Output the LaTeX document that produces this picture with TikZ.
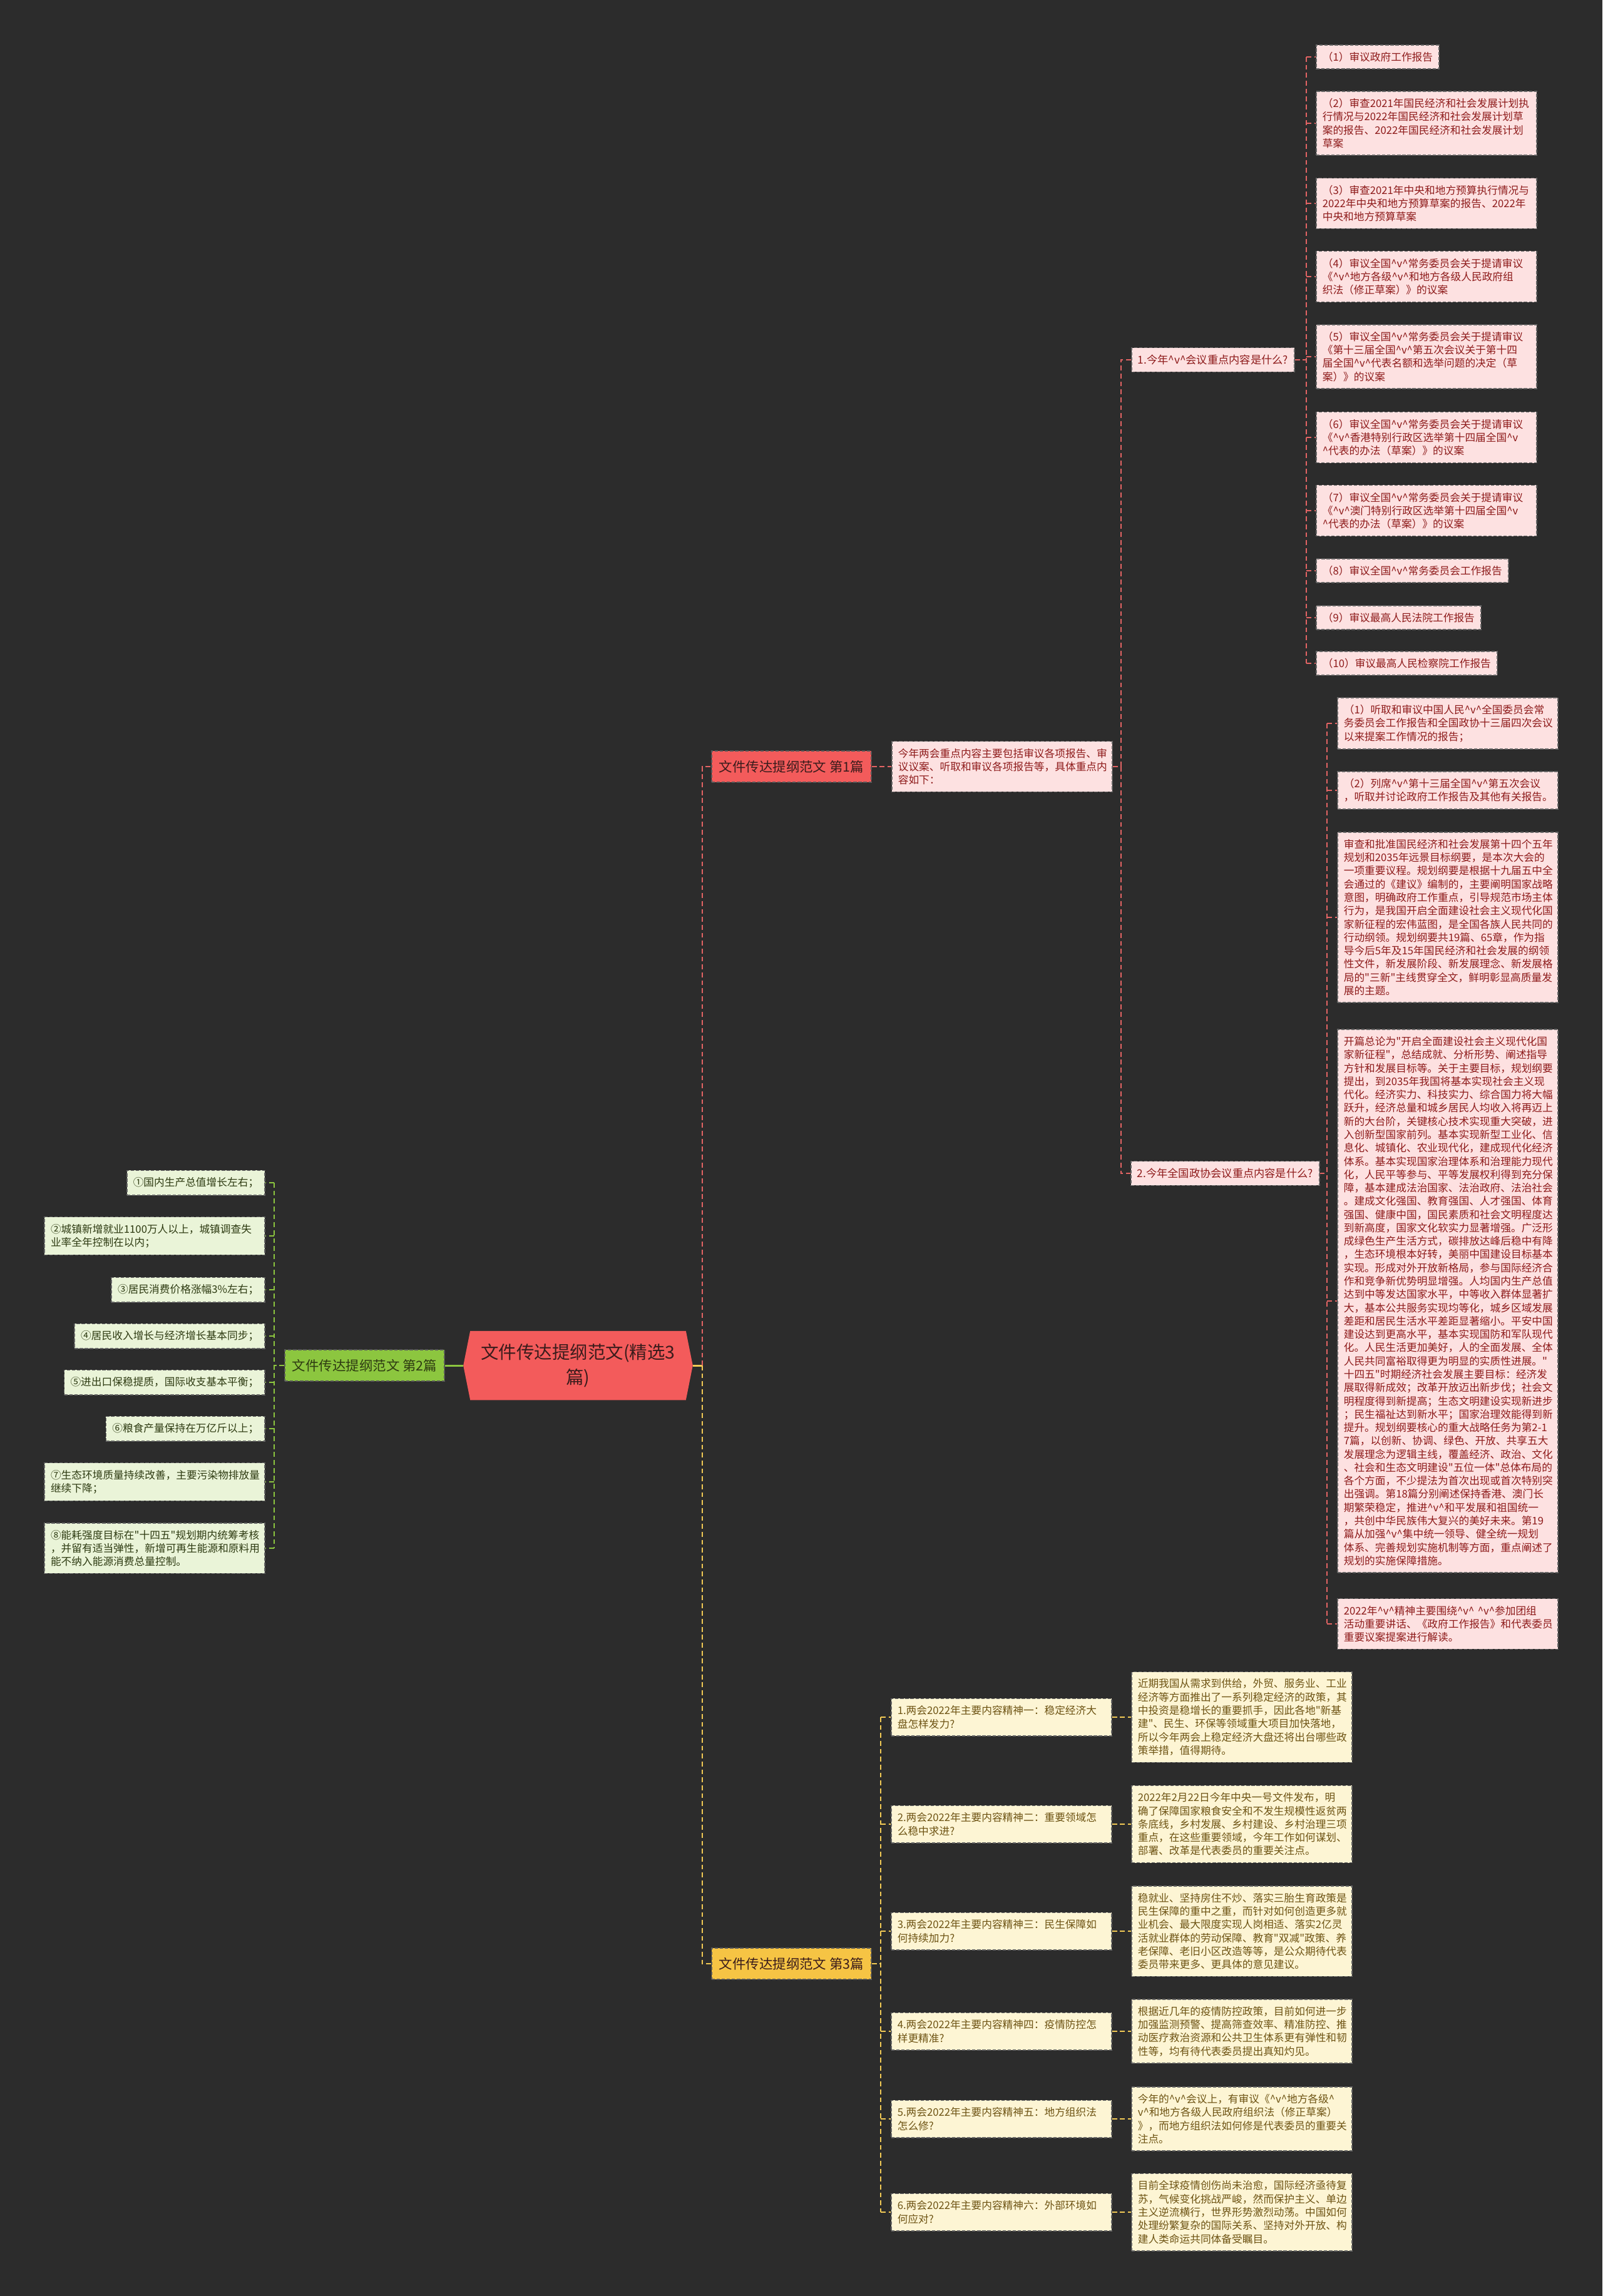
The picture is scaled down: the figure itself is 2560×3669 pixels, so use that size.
\documentclass[tikz,border=0pt]{standalone}
\usepackage{fontspec}
\setmainfont{Noto Sans CJK SC}
\usetikzlibrary{backgrounds}
\definecolor{bgdark}{HTML}{2C2C2C}
\definecolor{cRed}{HTML}{F35B5B}
\definecolor{cPinkFill}{HTML}{FDE1E1}
\definecolor{cPinkText}{HTML}{8E1B1B}
\definecolor{cPinkLine}{HTML}{E36464}
\definecolor{cGreen}{HTML}{8CC63F}
\definecolor{cGreenFill}{HTML}{EAF4D8}
\definecolor{cGreenText}{HTML}{2E3B12}
\definecolor{cYellow}{HTML}{F6C444}
\definecolor{cYellowFill}{HTML}{FDF5D4}
\definecolor{cYellowText}{HTML}{6E5414}
\definecolor{cYellowLine}{HTML}{F2CA55}
\definecolor{cDarkText}{HTML}{3A1C1C}
\newcommand{\vmark}{\textasciicircum{}v\textasciicircum{}}
\newcommand{\qt}{\textquotedbl{}}

\begin{document}
\begin{tikzpicture}[x=0.01cm,y=-0.01cm,line cap=butt,
  item/.style={font=\fontsize{4.75}{6.05}\selectfont,inner xsep=0.1cm,inner ysep=0.113cm,draw=black!60,line width=0.45pt,dash pattern=on 1.5pt off 0.8pt},
  wrapbox/.style={text width=3.32cm,align=left},
  pinkitem/.style={item,fill=cPinkFill,text=cPinkText},
  greenitem/.style={item,fill=cGreenFill,text=cGreenText},
  yellowitem/.style={item,fill=cYellowFill,text=cYellowText},
  branch/.style={font=\fontsize{6.1}{7.5}\selectfont,minimum height=0.5cm,inner xsep=0.12cm,draw=black!65,line width=0.45pt,dash pattern=on 1.5pt off 0.8pt},
  rootbox/.style={font=\fontsize{8.1}{11.4}\selectfont,text=cDarkText,minimum width=3.65cm,minimum height=1.09cm,text width=3.3cm,align=center,inner sep=0pt},
  pinkline/.style={draw=cPinkLine,line width=0.55pt,dash pattern=on 2.2pt off 1.4pt},
  greenline/.style={draw=cGreen,line width=0.55pt,dash pattern=on 2.2pt off 1.4pt},
  yellowline/.style={draw=cYellowLine,line width=0.55pt,dash pattern=on 2.2pt off 1.4pt}]
\useasboundingbox (0,0) rectangle (2560,3669);

% root
\node[rootbox] (root) at (923.5,2182) {文件传达提纲范文(精选3\\篇)};
\begin{scope}[on background layer]
\fill[bgdark] (0,0) rectangle (2560,3669);
\fill[cRed] (root.west) -- ([xshift=0.11cm]root.north west) -- ([xshift=-0.11cm]root.north east) -- (root.east) -- ([xshift=-0.11cm]root.south east) -- ([xshift=0.11cm]root.south west) -- cycle;
\end{scope}

% branch 1
\node[branch,fill=cRed,text=cDarkText,anchor=west] (n1) at (1136,1225) {文件传达提纲范文 第1篇};
\node[pinkitem,wrapbox,anchor=west] (n1t) at (1424,1225) {今年两会重点内容主要包括审议各项报告、审\\议议案、听取和审议各项报告等，具体重点内\\容如下：};
\node[pinkitem,font=\fontsize{4.9}{6.1}\selectfont,anchor=west] (n1a) at (1807,575) {1.今年\vmark{}会议重点内容是什么?};
\node[pinkitem,font=\fontsize{4.9}{6.1}\selectfont,anchor=west] (n1b) at (1806,1875) {2.今年全国政协会议重点内容是什么?};

\node[pinkitem,anchor=west] (p1) at (2102,91) {（1）审议政府工作报告};
\node[pinkitem,wrapbox,anchor=west] (p2) at (2102,197) {（2）审查2021年国民经济和社会发展计划执\\行情况与2022年国民经济和社会发展计划草\\案的报告、2022年国民经济和社会发展计划\\草案};
\node[pinkitem,wrapbox,anchor=west] (p3) at (2102,325) {（3）审查2021年中央和地方预算执行情况与\\2022年中央和地方预算草案的报告、2022年\\中央和地方预算草案};
\node[pinkitem,wrapbox,anchor=west] (p4) at (2102,442) {（4）审议全国\vmark{}常务委员会关于提请审议\\《\vmark{}地方各级\vmark{}和地方各级人民政府组\\织法（修正草案）》的议案};
\node[pinkitem,wrapbox,anchor=west] (p5) at (2102,570) {（5）审议全国\vmark{}常务委员会关于提请审议\\《第十三届全国\vmark{}第五次会议关于第十四\\届全国\vmark{}代表名额和选举问题的决定（草\\案）》的议案};
\node[pinkitem,wrapbox,anchor=west] (p6) at (2102,699) {（6）审议全国\vmark{}常务委员会关于提请审议\\《\vmark{}香港特别行政区选举第十四届全国\textasciicircum{}v\\\textasciicircum{}代表的办法（草案）》的议案};
\node[pinkitem,wrapbox,anchor=west] (p7) at (2102,816) {（7）审议全国\vmark{}常务委员会关于提请审议\\《\vmark{}澳门特别行政区选举第十四届全国\textasciicircum{}v\\\textasciicircum{}代表的办法（草案）》的议案};
\node[pinkitem,anchor=west] (p8) at (2102,912) {（8）审议全国\vmark{}常务委员会工作报告};
\node[pinkitem,anchor=west] (p9) at (2102,987) {（9）审议最高人民法院工作报告};
\node[pinkitem,anchor=west] (p10) at (2102,1060) {（10）审议最高人民检察院工作报告};

\node[pinkitem,wrapbox,anchor=west] (c1) at (2136,1156) {（1）听取和审议中国人民\vmark{}全国委员会常\\务委员会工作报告和全国政协十三届四次会议\\以来提案工作情况的报告；};
\node[pinkitem,wrapbox,anchor=west] (c2) at (2136,1263) {（2）列席\vmark{}第十三届全国\vmark{}第五次会议\\，听取并讨论政府工作报告及其他有关报告。};
\node[pinkitem,wrapbox,anchor=west] (c3) at (2136,1466) {审查和批准国民经济和社会发展第十四个五年\\规划和2035年远景目标纲要，是本次大会的\\一项重要议程。规划纲要是根据十九届五中全\\会通过的《建议》编制的，主要阐明国家战略\\意图，明确政府工作重点，引导规范市场主体\\行为，是我国开启全面建设社会主义现代化国\\家新征程的宏伟蓝图，是全国各族人民共同的\\行动纲领。规划纲要共19篇、65章，作为指\\导今后5年及15年国民经济和社会发展的纲领\\性文件，新发展阶段、新发展理念、新发展格\\局的\qt{}三新\qt{}主线贯穿全文，鲜明彰显高质量发\\展的主题。};
\node[pinkitem,wrapbox,anchor=west] (c4) at (2136,2079) {开篇总论为\qt{}开启全面建设社会主义现代化国\\家新征程\qt{}，总结成就、分析形势、阐述指导\\方针和发展目标等。关于主要目标，规划纲要\\提出，到2035年我国将基本实现社会主义现\\代化。经济实力、科技实力、综合国力将大幅\\跃升，经济总量和城乡居民人均收入将再迈上\\新的大台阶，关键核心技术实现重大突破，进\\入创新型国家前列。基本实现新型工业化、信\\息化、城镇化、农业现代化，建成现代化经济\\体系。基本实现国家治理体系和治理能力现代\\化，人民平等参与、平等发展权利得到充分保\\障，基本建成法治国家、法治政府、法治社会\\。建成文化强国、教育强国、人才强国、体育\\强国、健康中国，国民素质和社会文明程度达\\到新高度，国家文化软实力显著增强。广泛形\\成绿色生产生活方式，碳排放达峰后稳中有降\\，生态环境根本好转，美丽中国建设目标基本\\实现。形成对外开放新格局，参与国际经济合\\作和竞争新优势明显增强。人均国内生产总值\\达到中等发达国家水平，中等收入群体显著扩\\大，基本公共服务实现均等化，城乡区域发展\\差距和居民生活水平差距显著缩小。平安中国\\建设达到更高水平，基本实现国防和军队现代\\化。人民生活更加美好，人的全面发展、全体\\人民共同富裕取得更为明显的实质性进展。\qt{}\\十四五\qt{}时期经济社会发展主要目标：经济发\\展取得新成效；改革开放迈出新步伐；社会文\\明程度得到新提高；生态文明建设实现新进步\\；民生福祉达到新水平；国家治理效能得到新\\提升。规划纲要核心的重大战略任务为第2-1\\7篇，以创新、协调、绿色、开放、共享五大\\发展理念为逻辑主线，覆盖经济、政治、文化\\、社会和生态文明建设\qt{}五位一体\qt{}总体布局的\\各个方面，不少提法为首次出现或首次特别突\\出强调。第18篇分别阐述保持香港、澳门长\\期繁荣稳定，推进\vmark{}和平发展和祖国统一\\，共创中华民族伟大复兴的美好未来。第19\\篇从加强\vmark{}集中统一领导、健全统一规划\\体系、完善规划实施机制等方面，重点阐述了\\规划的实施保障措施。};
\node[pinkitem,wrapbox,anchor=west] (c5) at (2136,2595) {2022年\vmark{}精神主要围绕\vmark{}~\vmark{}参加团组\\活动重要讲话、《政府工作报告》和代表委员\\重要议案提案进行解读。};

% branch 2
\node[branch,fill=cGreen,text=cGreenText,anchor=east] (n2) at (711,2182) {文件传达提纲范文 第2篇};
\node[greenitem,anchor=east] (g1) at (424,1890) {①国内生产总值增长左右；};
\node[greenitem,wrapbox,anchor=east] (g2) at (424,1975) {②城镇新增就业1100万人以上，城镇调查失\\业率全年控制在以内；};
\node[greenitem,anchor=east] (g3) at (424,2061) {③居民消费价格涨幅3\%左右；};
\node[greenitem,anchor=east] (g4) at (424,2135) {④居民收入增长与经济增长基本同步；};
\node[greenitem,anchor=east] (g5) at (424,2209) {⑤进出口保稳提质，国际收支基本平衡；};
\node[greenitem,anchor=east] (g6) at (424,2283) {⑥粮食产量保持在万亿斤以上；};
\node[greenitem,wrapbox,anchor=east] (g7) at (424,2368) {⑦生态环境质量持续改善，主要污染物排放量\\继续下降；};
\node[greenitem,wrapbox,anchor=east] (g8) at (424,2474) {⑧能耗强度目标在\qt{}十四五\qt{}规划期内统筹考核\\，并留有适当弹性，新增可再生能源和原料用\\能不纳入能源消费总量控制。};

% branch 3
\node[branch,fill=cYellow,text=cDarkText,anchor=west] (n3) at (1136,3138) {文件传达提纲范文 第3篇};
\node[yellowitem,wrapbox,anchor=west] (q1) at (1423,2744) {1.两会2022年主要内容精神一：稳定经济大\\盘怎样发力?};
\node[yellowitem,wrapbox,anchor=west] (a1) at (1807,2744) {近期我国从需求到供给，外贸、服务业、工业\\经济等方面推出了一系列稳定经济的政策，其\\中投资是稳增长的重要抓手，因此各地\qt{}新基\\建\qt{}、民生、环保等领域重大项目加快落地，\\所以今年两会上稳定经济大盘还将出台哪些政\\策举措，值得期待。};
\node[yellowitem,wrapbox,anchor=west] (q2) at (1423,2915) {2.两会2022年主要内容精神二：重要领域怎\\么稳中求进?};
\node[yellowitem,wrapbox,anchor=west] (a2) at (1807,2915) {2022年2月22日今年中央一号文件发布，明\\确了保障国家粮食安全和不发生规模性返贫两\\条底线，乡村发展、乡村建设、乡村治理三项\\重点，在这些重要领域，今年工作如何谋划、\\部署、改革是代表委员的重要关注点。};
\node[yellowitem,wrapbox,anchor=west] (q3) at (1423,3086) {3.两会2022年主要内容精神三：民生保障如\\何持续加力?};
\node[yellowitem,wrapbox,anchor=west] (a3) at (1807,3086) {稳就业、坚持房住不炒、落实三胎生育政策是\\民生保障的重中之重，而针对如何创造更多就\\业机会、最大限度实现人岗相适、落实2亿灵\\活就业群体的劳动保障、教育\qt{}双减\qt{}政策、养\\老保障、老旧小区改造等等，是公众期待代表\\委员带来更多、更具体的意见建议。};
\node[yellowitem,wrapbox,anchor=west] (q4) at (1423,3246) {4.两会2022年主要内容精神四：疫情防控怎\\样更精准?};
\node[yellowitem,wrapbox,anchor=west] (a4) at (1807,3246) {根据近几年的疫情防控政策，目前如何进一步\\加强监测预警、提高筛查效率、精准防控、推\\动医疗救治资源和公共卫生体系更有弹性和韧\\性等，均有待代表委员提出真知灼见。};
\node[yellowitem,wrapbox,anchor=west] (q5) at (1423,3386) {5.两会2022年主要内容精神五：地方组织法\\怎么修?};
\node[yellowitem,wrapbox,anchor=west] (a5) at (1807,3386) {今年的\vmark{}会议上，有审议《\vmark{}地方各级\textasciicircum{}\\v\textasciicircum{}和地方各级人民政府组织法（修正草案）\\》，而地方组织法如何修是代表委员的重要关\\注点。};
\node[yellowitem,wrapbox,anchor=west] (q6) at (1423,3535) {6.两会2022年主要内容精神六：外部环境如\\何应对?};
\node[yellowitem,wrapbox,anchor=west] (a6) at (1807,3535) {目前全球疫情创伤尚未治愈，国际经济亟待复\\苏，气候变化挑战严峻，然而保护主义、单边\\主义逆流横行，世界形势激烈动荡。中国如何\\处理纷繁复杂的国际关系、坚持对外开放、构\\建人类命运共同体备受瞩目。};

% connectors
\coordinate (busroot) at (1122,2182);
\coordinate (bus1t) at (1791,1225);
\coordinate (bus1a) at (2087,575);
\coordinate (bus1b) at (2120,1875);
\coordinate (busg) at (438,2182);
\coordinate (bus3) at (1407,3138);

\draw[cGreen,line width=0.85pt] (root.west) -- (n2.east);
\draw[cYellowLine,line width=0.85pt] (root.east) -- (busroot);
\draw[pinkline] (busroot) |- (n1.west);
\draw[yellowline] (busroot) |- (n3.west);

\draw[pinkline] (n1.east) -- (n1t.west);
\draw[pinkline] (n1t.east) -- (bus1t);
\draw[pinkline] (bus1t) |- (n1a.west);
\draw[pinkline] (bus1t) |- (n1b.west);
\draw[pinkline] (n1a.east) -- (bus1a);
\draw[pinkline] (bus1a |- p1.west) -- (bus1a |- p10.west);
\foreach \i in {1,...,10} \draw[pinkline] (bus1a |- p\i.west) -- (p\i.west);
\draw[pinkline] (n1b.east) -- (bus1b);
\draw[pinkline] (bus1b |- c1.west) -- (bus1b |- c5.west);
\foreach \i in {1,...,5} \draw[pinkline] (bus1b |- c\i.west) -- (c\i.west);

\draw[greenline] (n2.west) -- (busg);
\draw[greenline] (busg |- g1.east) -- (busg |- g8.east);
\foreach \i in {1,...,8} \draw[greenline] (busg |- g\i.east) -- (g\i.east);

\draw[yellowline] (n3.east) -- (bus3);
\draw[yellowline] (bus3 |- q1.west) -- (bus3 |- q6.west);
\foreach \i in {1,...,6} {
  \draw[yellowline] (bus3 |- q\i.west) -- (q\i.west);
  \draw[yellowline] (q\i.east) -- (a\i.west);
}
\end{tikzpicture}
\end{document}
